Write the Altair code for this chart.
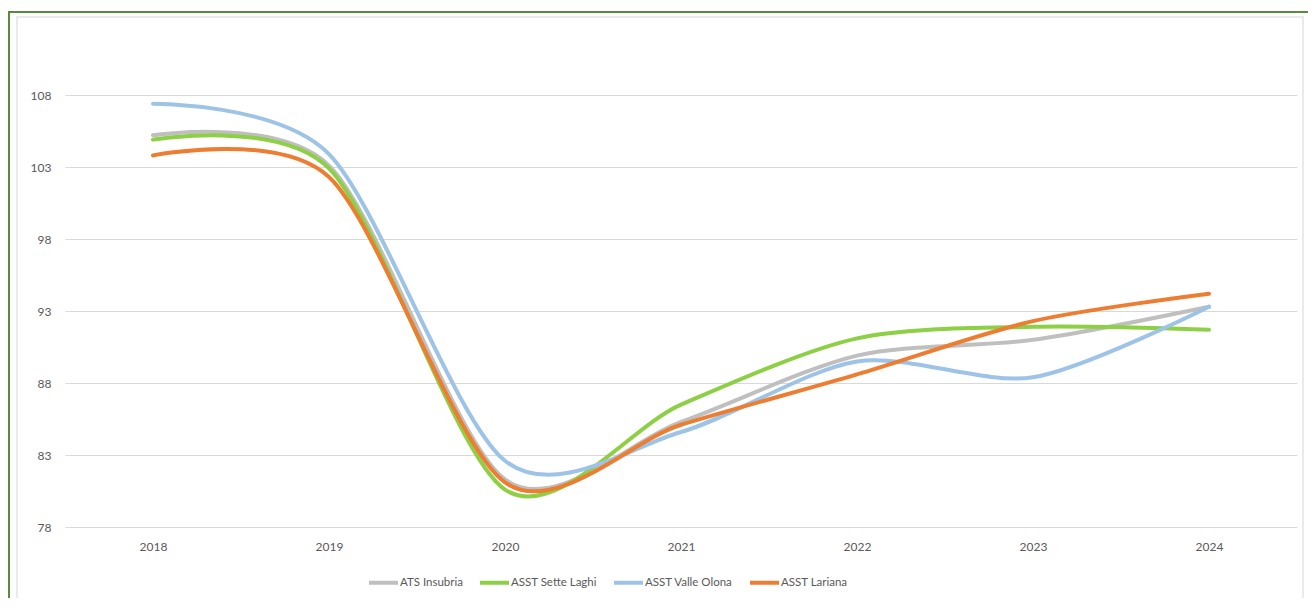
import altair as alt
import pandas as pd

years = ["2018", "2019", "2020", "2021", "2022", "2023", "2024"]
series_names = ["ATS Insubria", "ASST Sette Laghi", "ASST Valle Olona", "ASST Lariana"]
ats_insubria = [105.2, 103.1, 81.3, 85.3, 89.9, 91.0, 93.3]
asst_sette_laghi = [104.9, 102.9, 80.6, 86.5, 91.1, 91.9, 91.7]
asst_valle_olona = [107.4, 103.9, 82.6, 84.6, 89.5, 88.4, 93.3]
asst_lariana = [103.8, 102.3, 81.1, 85.1, 88.6, 92.3, 94.2]
y_ticks = [78, 83, 88, 93, 98, 103, 108]
colors = ["#bfbfbf", "#8dcf45", "#9dc3e6", "#ed7d31"]

rows = []
for name, vals in zip(series_names, [ats_insubria, asst_sette_laghi, asst_valle_olona, asst_lariana]):
    for i, (yr, v) in enumerate(zip(years, vals)):
        rows.append({"year": yr, "value": v, "series": name, "order": i})
df = pd.DataFrame(rows)

W, H = 1232, 504
FONT = "Lato"
TXT = "#595959"

frame_df = pd.DataFrame({"a": [0]})
outer = alt.Chart(frame_df).mark_rect(fillOpacity=0, stroke="#5b8a3c", strokeWidth=2).encode(
    x=alt.value(-56), x2=alt.value(W + 20), y=alt.value(-11), y2=alt.value(H + 80)
)
inner = alt.Chart(frame_df).mark_rect(fillOpacity=0, stroke="#e3e3e3", strokeWidth=1.5).encode(
    x=alt.value(-48), x2=alt.value(W + 6), y=alt.value(-6), y2=alt.value(H + 72)
)

lines = alt.Chart(df).mark_line(interpolate="cardinal", tension=0.15, strokeWidth=4, strokeCap="round").encode(
    x=alt.X("year:O", sort=years, scale=alt.Scale(type="point", padding=0.5),
            axis=alt.Axis(title=None, labelAngle=0, labelPadding=14, grid=False, domain=False, ticks=False,
                          labelFont=FONT, labelFontSize=12, labelColor=TXT)),
    y=alt.Y("value:Q", scale=alt.Scale(domain=[78, 113], nice=False, zero=False),
            axis=alt.Axis(title=None, values=y_ticks, labelPadding=14, grid=True, gridColor="#d9d9d9",
                          domain=False, ticks=False, labelFont=FONT, labelFontSize=12, labelColor=TXT)),
    color=alt.Color("series:N", sort=series_names,
                    scale=alt.Scale(domain=series_names, range=colors),
                    legend=alt.Legend(title=None, orient="none", legendX=302, legendY=543,
                                      direction="horizontal", columns=4, symbolType="stroke",
                                      symbolSize=841, symbolStrokeWidth=4, labelFont=FONT,
                                      labelFontSize=11.5, labelColor=TXT, columnPadding=9,
                                      labelOffset=0)),
    order=alt.Order("order:Q"),
)

chart = alt.layer(outer, inner, lines).properties(
    width=W, height=H,
    autosize=alt.AutoSizeParams(type="none"),
    padding={"left": 57, "top": 15, "right": 11, "bottom": 71},
    background="white",
).configure_view(stroke=None)

chart.save("out.html", embed_options={"renderer": "svg", "actions": False})
